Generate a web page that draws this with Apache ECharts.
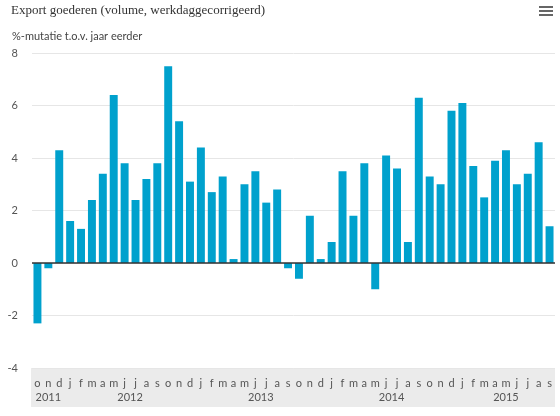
<!DOCTYPE html>
<html>
<head>
<meta charset="utf-8">
<script src="https://cdn.jsdelivr.net/npm/echarts@6/dist/echarts.min.js"></script>
<style>
  html, body { margin: 0; padding: 0; background: #fff; }
  #chart { width: 560px; height: 416px; }
</style>
</head>
<body>
<div id="chart"></div>
<script>
// maanden okt 2011 t/m sep 2015
const months = [
  'o', 'n', 'd',
  'j', 'f', 'm', 'a', 'm', 'j', 'j', 'a', 's', 'o', 'n', 'd',
  'j', 'f', 'm', 'a', 'm', 'j', 'j', 'a', 's', 'o', 'n', 'd',
  'j', 'f', 'm', 'a', 'm', 'j', 'j', 'a', 's', 'o', 'n', 'd',
  'j', 'f', 'm', 'a', 'm', 'j', 'j', 'a', 's'
]
const years = ['2011', '2012', '2013', '2014', '2015']
const monthsPerYear = [3, 12, 12, 12, 9]

const exportVolume = [
  -2.3, -0.2, 4.3,
  1.6, 1.3, 2.4, 3.4, 6.4, 3.8, 2.4, 3.2, 3.8, 7.5, 5.4, 3.1,
  4.4, 2.7, 3.3, 0.15, 3.0, 3.5, 2.3, 2.8, -0.2, -0.6, 1.8, 0.15,
  0.8, 3.5, 1.8, 3.8, -1.0, 4.1, 3.6, 0.8, 6.3, 3.3, 3.0, 5.8,
  6.1, 3.7, 2.5, 3.9, 4.3, 3.0, 3.4, 4.6, 1.4
]

// midden van elk jaar, in categorie-index
const yearCenters = []
let start = 0
monthsPerYear.forEach(n => {
  yearCenters.push(start + (n - 1) / 2)
  start += n
})

const chart = echarts.init(document.getElementById('chart'), null, { renderer: 'canvas' })

const labelFont = 'Lato, "Open Sans", sans-serif'

const option = {
  animation: false,
  title: [
    {
      text: 'Export goederen (volume, werkdaggecorrigeerd)',
      left: 6,
      top: -1,
      textStyle: {
        fontFamily: '"Liberation Serif", serif',
        fontSize: 13,
        fontWeight: 'normal',
        color: '#333',
      },
    },
    {
      text: '%-mutatie t.o.v. jaar eerder',
      left: 7,
      top: 26,
      textStyle: {
        fontFamily: labelFont,
        fontSize: 11,
        fontWeight: 'normal',
        color: '#444',
      },
    },
  ],
  graphic: [
    {
      type: 'rect',
      left: 31,
      top: 368,
      z: -10,
      shape: { width: 524, height: 39 },
      style: { fill: '#ebebeb' },
    },
    {
      type: 'group',
      left: 539,
      top: 6,
      children: [
        { type: 'rect', shape: { x: 0, y: 0, width: 14, height: 2 }, style: { fill: '#666' } },
        { type: 'rect', shape: { x: 0, y: 4, width: 14, height: 2 }, style: { fill: '#666' } },
        { type: 'rect', shape: { x: 0, y: 8, width: 14, height: 2 }, style: { fill: '#666' } },
      ],
    },
  ],
  grid: {
    left: 32,
    right: 5,
    top: 53,
    bottom: 48,
  },
  xAxis: [
    {
      type: 'category',
      data: months,
      axisLine: { show: false },
      axisTick: { show: false },
      splitLine: { show: false },
      axisLabel: {
        interval: 0,
        margin: 10,
        fontFamily: labelFont,
        fontSize: 11,
        color: '#555',
      },
    },
    {
      type: 'value',
      position: 'bottom',
      min: -0.5,
      max: months.length - 0.5,
      axisLine: { show: false },
      axisTick: { show: false },
      splitLine: { show: false },
      axisLabel: {
        customValues: yearCenters,
        margin: 24,
        fontFamily: labelFont,
        fontSize: 11,
        color: '#555',
        formatter: (value) => {
          const i = yearCenters.findIndex(c => Math.abs(c - value) < 0.01)
          return i >= 0 ? years[i] : ''
        },
      },
    },
  ],
  yAxis: {
    type: 'value',
    min: -4,
    max: 8,
    interval: 2,
    axisLine: { show: false },
    axisTick: { show: false },
    axisLabel: {
      margin: 14,
      fontFamily: labelFont,
      fontSize: 11,
      color: '#555',
    },
    splitLine: {
      lineStyle: { color: '#e6e6e6', width: 1 },
    },
  },
  series: [
    {
      name: 'Export goederen',
      type: 'bar',
      xAxisIndex: 0,
      data: exportVolume,
      barCategoryGap: '27%',
      itemStyle: { color: '#00a1cd' },
      markLine: {
        silent: true,
        symbol: 'none',
        label: { show: false },
        lineStyle: { color: '#333', width: 1.5, type: 'solid' },
        data: [{ yAxis: 0 }],
      },
    },
  ],
}

chart.setOption(option)
</script>
</body>
</html>
